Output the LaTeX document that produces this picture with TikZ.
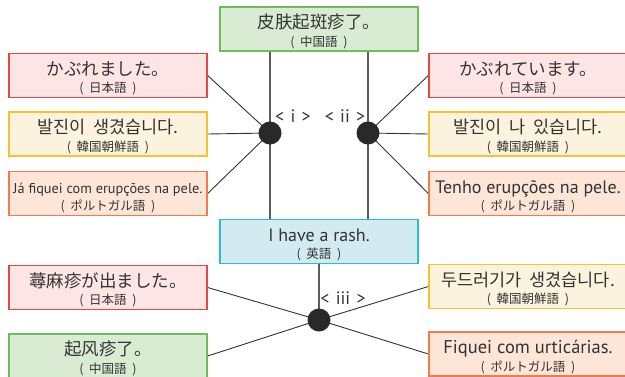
\documentclass[tikz,border=0pt]{standalone}
\usepackage{fontspec}
\usetikzlibrary{backgrounds}
\setmainfont{PT Sans}
\newfontfamily\jpfont{Noto Sans CJK JP}
\newfontfamily\zhfont{Noto Sans CJK SC}
\newfontfamily\krfont{Noto Sans CJK KR}
\definecolor{gfill}{RGB}{217,235,211}
\definecolor{gline}{RGB}{109,190,90}
\definecolor{rfill}{RGB}{253,228,229}
\definecolor{rline}{RGB}{232,71,63}
\definecolor{yfill}{RGB}{252,243,222}
\definecolor{yline}{RGB}{248,193,46}
\definecolor{ofill}{RGB}{253,230,216}
\definecolor{oline}{RGB}{239,124,74}
\definecolor{cfill}{RGB}{211,234,240}
\definecolor{cline}{RGB}{43,189,203}
\definecolor{ink}{RGB}{51,51,51}
\newcommand\mainsz{\fontsize{17.5}{19}\selectfont}
\newcommand\subsz{\fontsize{12.5}{14}\selectfont}
\newcommand\lang[1]{\jpfont\subsz(\hspace{0.45em}#1\hspace{0.45em})}
\newcommand\ksp{\hspace{0.45em}}
\newcommand\boxtexts[3]{%
  \node[maintext] at ([yshift=-22.5pt]#1.north) {#2};
  \node[subtext] at ([yshift=-40pt]#1.north) {#3};}
\begin{document}
\begin{tikzpicture}[x=1pt,y=-1pt,
  box/.style={draw, line width=1.3pt, minimum width=198pt, minimum height=44pt, inner sep=0pt},
  greenbox/.style={box, draw=gline, fill=gfill},
  redbox/.style={box, draw=rline, fill=rfill},
  yellowbox/.style={box, draw=yline, fill=yfill},
  orangebox/.style={box, draw=oline, fill=ofill},
  cyanbox/.style={box, draw=cline, fill=cfill},
  maintext/.style={anchor=base, inner sep=0pt, text=ink, font=\mainsz},
  subtext/.style={anchor=base, inner sep=0pt, text=ink},
  hub/.style={circle, fill=ink!80!black, minimum size=23pt, inner sep=0pt},
  link/.style={draw=ink, line width=0.9pt},
  vlink/.style={draw=ink!80, line width=1.1pt},
  tag/.style={inner sep=0pt, text=ink, font=\fontsize{18}{19}\selectfont}]
\useasboundingbox (0,0) rectangle (625,376);
% boxes
\node[greenbox] (zh1) at (319,29) {};
\node[cyanbox] (en) at (319,241.5) {};
\node[redbox] (jpL) at (108,75.5) {};
\node[yellowbox] (krL) at (108,134) {};
\node[orangebox] (ptL) at (108,193.5) {};
\node[redbox] (jpR) at (528,75.5) {};
\node[yellowbox] (krR) at (528,134) {};
\node[orangebox] (ptR) at (528,193.5) {};
\node[redbox] (jpB) at (108,287.5) {};
\node[greenbox] (zhB) at (108,356) {};
\node[yellowbox] (krB) at (528,286.5) {};
\node[orangebox] (ptB) at (528,354) {};
% hubs
\node[hub] (d1) at (270,133) {};
\node[hub] (d2) at (368,133) {};
\node[hub] (d3) at (319,320) {};
% connectors
\begin{pgfonlayer}{background}
\draw[vlink] (d1 |- zh1.south) -- (d1 |- en.north);
\draw[vlink] (d2 |- zh1.south) -- (d2 |- en.north);
\draw[vlink] (en.south) -- (d3.center);
\draw[link] (d1.center) -- (jpL.east);
\draw[link] (d1.center) -- (krL.east);
\draw[link] (d1.center) -- (ptL.east);
\draw[link] (d2.center) -- (jpR.west);
\draw[link] (d2.center) -- (krR.west);
\draw[link] (d2.center) -- (ptR.west);
\draw[link] (d3.center) -- (jpB.east);
\draw[link] (d3.center) -- (zhB.east);
\draw[link] (d3.center) -- (krB.west);
\draw[link] (d3.center) -- (ptB.west);
\end{pgfonlayer}
% texts
\boxtexts{zh1}{\zhfont 皮肤起斑疹了。}{\lang{中国語}}
\boxtexts{en}{\fontsize{18}{19}\selectfont I have a rash.}{\lang{英語}}
\boxtexts{jpL}{\jpfont かぶれました。}{\lang{日本語}}
\boxtexts{krL}{\krfont 발진이\ksp 생겼습니다.}{\lang{韓国朝鮮語}}
\boxtexts{ptL}{\fontsize{14.3}{16}\selectfont Já fiquei com erupções na pele.}{\lang{ポルトガル語}}
\boxtexts{jpR}{\jpfont かぶれています。}{\lang{日本語}}
\boxtexts{krR}{\krfont 발진이\ksp 나\ksp 있습니다.}{\lang{韓国朝鮮語}}
\boxtexts{ptR}{\fontsize{18}{19}\selectfont Tenho erupções na pele.}{\lang{ポルトガル語}}
\boxtexts{jpB}{\jpfont 蕁麻疹が出ました。}{\lang{日本語}}
\boxtexts{zhB}{\zhfont 起风疹了。}{\lang{中国語}}
\boxtexts{krB}{\krfont 두드러기가\ksp 생겼습니다.}{\lang{韓国朝鮮語}}
\boxtexts{ptB}{\fontsize{18.5}{19}\selectfont Fiquei com urticárias.}{\lang{ポルトガル語}}
\node[tag] (t1) at (293,116) {<\hspace{0.35em}i\hspace{0.35em}>};
\node[tag] (t2) at (345,116) {<\hspace{0.35em}ii\hspace{0.35em}>};
\node[tag] (t3) at (343,298) {<\hspace{0.35em}iii\hspace{0.35em}>};
\end{tikzpicture}
\end{document}
